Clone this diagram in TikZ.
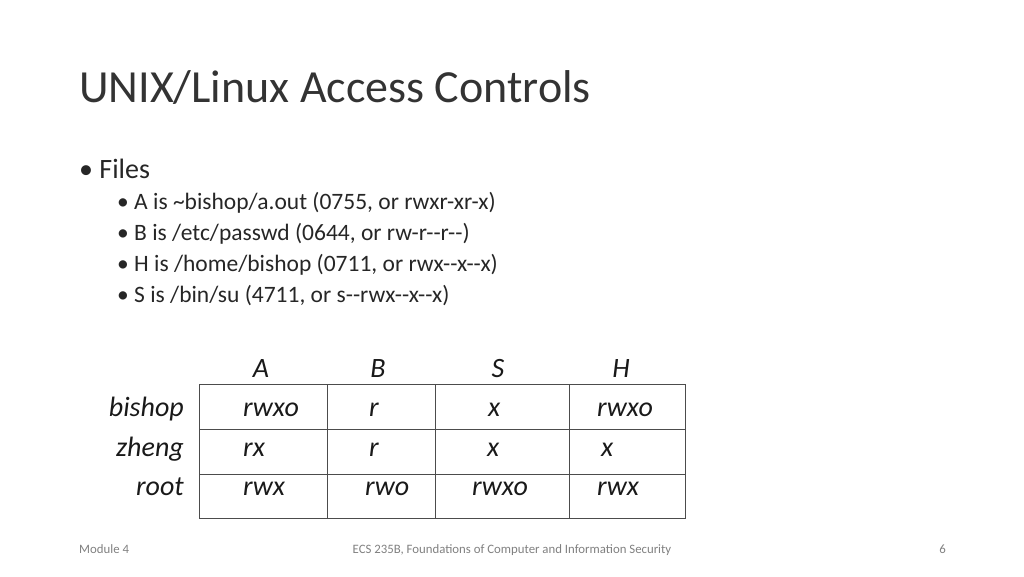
\documentclass[tikz,border=0pt]{standalone}
\usepackage{fontspec}
\setmainfont{Carlito}
\begin{document}
\begin{tikzpicture}[x=1pt,y=-1pt,
  tx/.style={inner sep=0pt,anchor=base west,text=black!85},
  it/.style={inner sep=0pt,anchor=base west,font=\fontsize{28}{32}\selectfont\itshape,text=black!90},
  itr/.style={inner sep=0pt,anchor=base east,font=\fontsize{28}{32}\selectfont\itshape,text=black!90},
  foot/.style={inner sep=0pt,anchor=base,font=\fontsize{12.8}{15}\selectfont,text=black!50},
  grid/.style={draw=black!70,line width=0.8pt}]
\useasboundingbox (0,0) rectangle (1024,576);
\node[tx,font=\fontsize{46}{52}\selectfont,text=black!80] (title) at (79,102) {UNIX/Linux Access Controls};
\node[tx,font=\fontsize{28}{32}\selectfont] (files) at (79,178) {\textbullet\ Files};
\foreach \t [count=\i] in {A is \textasciitilde bishop/a.out (0755{,} or rwxr-xr-x),B is /etc/passwd (0644{,} or rw-r-{}-r-{}-),H is /home/bishop (0711{,} or rwx-{}-x-{}-x),S is /bin/su (4711{,} or s-{}-rwx-{}-x-{}-x)}
  \node[tx,font=\fontsize{23.5}{27}\selectfont] (s\i) at (117,178+31*\i) {\textbullet\ \t};
\draw[grid] (199,384) rectangle (685,518);
\draw[grid] (199,429) -- (685,429) (199,474) -- (685,474);
\draw[grid] (327,384) -- (327,518) (435,384) -- (435,518) (569,384) -- (569,518);
\node[it,anchor=base] (hA) at (261,377) {A};
\node[it,anchor=base] (hB) at (378,377) {B};
\node[it,anchor=base] (hS) at (498,377) {S};
\node[it,anchor=base] (hH) at (621,377) {H};
\node[itr] (r1) at (184,416) {bishop};
\node[itr] (r2) at (184,456) {zheng};
\node[itr] (r3) at (184,495) {root};
\node[it] at (243,416) {rwxo}; \node[it] at (369,416) {r}; \node[it] at (488,416) {x}; \node[it] at (597,416) {rwxo};
\node[it] at (243,456) {rx}; \node[it] at (369,456) {r}; \node[it] at (487,456) {x}; \node[it] at (601,456) {x};
\node[it] at (243,495) {rwx}; \node[it] at (365,495) {rwo}; \node[it] at (472,495) {rwxo}; \node[it] at (597,495) {rwx};
\node[foot,anchor=base west] (f1) at (79,553) {Module 4};
\node[foot] (f2) at (512,553) {ECS 235B, Foundations of Computer and Information Security};
\node[foot,anchor=base east] (f3) at (946,553) {6};
\end{tikzpicture}
\end{document}
